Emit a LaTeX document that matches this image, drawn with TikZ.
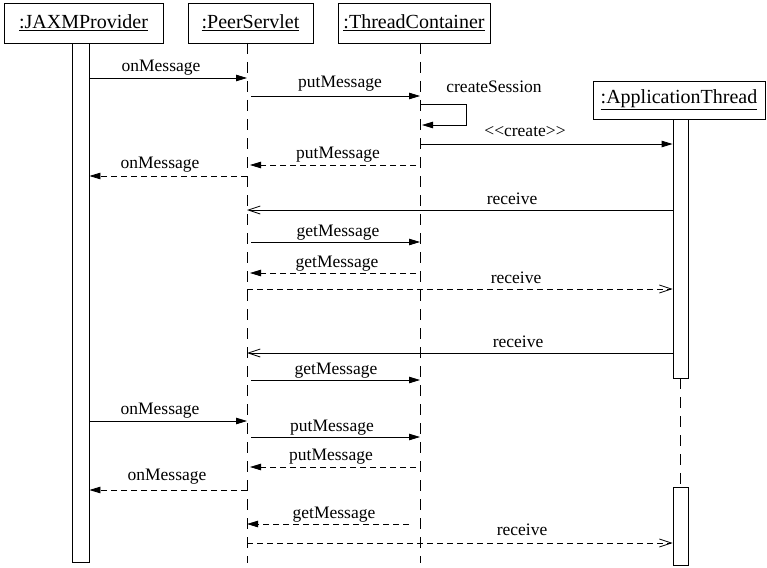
\documentclass[tikz,border=0pt]{standalone}
\usepackage{fontspec}
\setmainfont{Liberation Serif}
\usetikzlibrary{arrows.meta}
\begin{document}
\begin{tikzpicture}[x=1pt,y=-1pt,
  obj/.style={draw, line width=0.8pt, inner sep=0pt, font=\fontsize{20}{24}\selectfont},
  actbar/.style={draw, fill=white, line width=0.8pt, inner sep=0pt},
  life/.style={line width=0.8pt, dash pattern=on 11pt off 8pt},
  call/.style={line width=0.8pt, -{Triangle[length=11pt,width=6.5pt]}},
  reply/.style={call, dash pattern=on 6pt off 4pt},
  sig/.style={line width=0.8pt, -{Straight Barb[length=12pt,width=8pt]}},
  sigreply/.style={sig, dash pattern=on 6pt off 4pt},
  lbl/.style={anchor=base, inner sep=0pt, font=\fontsize{17.5}{20}\selectfont}]
\useasboundingbox (0,0) rectangle (767,567);

% object heads
\node[obj, minimum width=159pt, minimum height=40pt] (J) at (83.5,23) {\underline{:JAXMProvider}};
\node[obj, minimum width=125pt, minimum height=40pt] (P) at (250.5,23) {\underline{:PeerServlet}};
\node[obj, minimum width=152pt, minimum height=40pt] (T) at (414,23) {\underline{:ThreadContainer}};
\node[obj, minimum width=172pt, minimum height=38pt] (A) at (679,100) {\underline{:ApplicationThread}};

% activation bars
\node[actbar, minimum width=17pt, minimum height=519pt] (Jb) at (80.5,302.5) {};
\node[actbar, minimum width=15pt, minimum height=259pt] (Ab1) at (680.5,248.5) {};
\node[actbar, minimum width=15pt, minimum height=78pt] (Ab2) at (680.5,526) {};

% lifelines
\coordinate (Pt) at (247,43);
\coordinate (Pb) at (247,563);
\coordinate (Tt) at (420,43);
\coordinate (Tb) at (420,563);
\draw[life] (Pt) -- (Pb);
\draw[life] (Tt) -- (Tb);
\draw[life] (Ab1.south) -- (Ab2.north);

% messages
\draw[call] (Jb.east |- 0,78) -- (Pt |- 0,78) node[lbl] at (161,72) {onMessage};
\draw[call] ([xshift=4pt]Pt |- 0,96) -- (Tt |- 0,96) node[lbl] at (340,88) {putMessage};
\draw[call] (Tt |- 0,104) -- ++(46,0) -- ++(0,21) -- ([xshift=2pt]Tt |- 0,125)
  node[lbl] at (494,93) {createSession};
\draw[call] (Tt |- 0,144) -- (Ab1.west |- 0,144) node[lbl] at (525,136) {<{}<create>{}>};
\draw[reply] ([xshift=-4pt]Tt |- 0,165) -- ([xshift=3pt]Pt |- 0,165) node[lbl] at (338,158) {putMessage};
\draw[reply] (Pt |- 0,176) -- (Jb.east |- 0,176) node[lbl] at (160,168) {onMessage};
\draw[sig] (Ab1.west |- 0,210) -- (Pt |- 0,210) node[lbl] at (512,204) {receive};
\draw[call] ([xshift=4pt]Pt |- 0,242) -- (Tt |- 0,242) node[lbl] at (338,236) {getMessage};
\draw[reply] ([xshift=-4pt]Tt |- 0,273) -- ([xshift=3pt]Pt |- 0,273) node[lbl] at (337,267) {getMessage};
\draw[sigreply] (Pt |- 0,289) -- (Ab1.west |- 0,289) node[lbl] at (516,283) {receive};
\draw[sig] (Ab1.west |- 0,353) -- (Pt |- 0,353) node[lbl] at (518,347) {receive};
\draw[call] ([xshift=4pt]Pt |- 0,380) -- (Tt |- 0,380) node[lbl] at (336,374) {getMessage};
\draw[call] (Jb.east |- 0,421) -- (Pt |- 0,421) node[lbl] at (160,414) {onMessage};
\draw[call] ([xshift=4pt]Pt |- 0,437) -- (Tt |- 0,437) node[lbl] at (332,431) {putMessage};
\draw[reply] ([xshift=-4pt]Tt |- 0,467) -- ([xshift=3pt]Pt |- 0,467) node[lbl] at (331,460) {putMessage};
\draw[reply] (Pt |- 0,490) -- (Jb.east |- 0,490) node[lbl] at (167,480) {onMessage};
\draw[reply] ([xshift=-11pt]Tt |- 0,524) -- (Pt |- 0,524) node[lbl] at (334,518) {getMessage};
\draw[sigreply] (Pt |- 0,543) -- (Ab2.west |- 0,543) node[lbl] at (522,535) {receive};
\end{tikzpicture}
\end{document}
